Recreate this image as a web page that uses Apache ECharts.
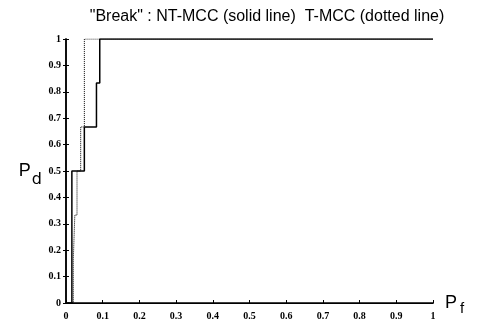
<!DOCTYPE html>
<html><head><meta charset="utf-8">
<script src="https://cdn.jsdelivr.net/npm/echarts@6/dist/echarts.min.js"></script>
<style>html,body{margin:0;padding:0;background:#fff}#c{width:487px;height:329px}</style>
</head><body><div id="c"></div>
<script>
var titleText = '"Break" : NT-MCC (solid line)  T-MCC (dotted line)';
var tickLabels = ['0','0.1','0.2','0.3','0.4','0.5','0.6','0.7','0.8','0.9','1'];
// NT-MCC (solid) step curve
var ntX = [0, 0.016, 0.016, 0.05, 0.05, 0.083, 0.083, 0.092, 0.092, 1];
var ntY = [0, 0, 0.5, 0.5, 0.667, 0.667, 0.833, 0.833, 1, 1];
// T-MCC (dotted) step curve
var tX = [0, 0.02, 0.02, 0.024, 0.024, 0.03, 0.03, 0.04, 0.04, 0.05, 0.05, 1];
var tY = [0, 0, 0.167, 0.167, 0.333, 0.333, 0.5, 0.5, 0.667, 0.667, 1, 1];

function pairs(xs, ys){ return xs.map(function(x,i){ return [x, ys[i]]; }); }
var lblFmt = function(v){ var i = Math.round(v*10); return tickLabels[i]; };
var labelStyle = {fontFamily:'Liberation Serif', fontWeight:'bold', fontSize:10, color:'#000', formatter: lblFmt};
var chart = echarts.init(document.getElementById('c'), null, {renderer:'canvas'});
chart.setOption({
  animation:false,
  backgroundColor:'#fff',
  title:{text:titleText, left:262, top:4, textAlign:'center',
    textStyle:{fontFamily:'Liberation Sans', fontWeight:'normal', fontSize:16, color:'#000'}},
  grid:{left:66, right:54, top:39, bottom:26},
  xAxis:[{type:'value', min:0, max:1, interval:0.1, position:'bottom',
    axisLine:{lineStyle:{color:'#000', width:1.5}},
    axisTick:{inside:true, length:3, lineStyle:{color:'#000'}},
    axisLabel:Object.assign({margin:8}, labelStyle),
    splitLine:{show:false},
    name:'{p|P}{s|f}', nameLocation:'end', nameGap:12,
    nameTextStyle:{rich:{p:{fontFamily:'Liberation Sans', fontSize:18, color:'#000'},
      s:{fontFamily:'Liberation Sans', fontSize:15, color:'#000', padding:[12,0,0,3]}}}},
   {type:'value', min:0, max:1, interval:0.1, position:'top',
    axisLine:{lineStyle:{color:'#000', width:1}}, axisTick:{show:false}, axisLabel:{show:false}, splitLine:{show:false}}],
  yAxis:[{type:'value', min:0, max:1, interval:0.1, position:'left',
    axisLine:{lineStyle:{color:'#000', width:1.5}},
    axisTick:{inside:true, length:3, lineStyle:{color:'#000'}},
    axisLabel:Object.assign({margin:5}, labelStyle),
    splitLine:{show:false},
    name:'{p|P}{s|d}', nameLocation:'middle', nameRotate:0, nameGap:24,
    nameTextStyle:{rich:{p:{fontFamily:'Liberation Sans', fontSize:18, color:'#000'},
      s:{fontFamily:'DejaVu Sans', fontSize:16, color:'#000', padding:[18,0,0,1]}}}},
   {type:'value', min:0, max:1, interval:0.1, position:'right',
    axisLine:{lineStyle:{color:'#000', width:1.5}},
    axisTick:{inside:true, length:3, lineStyle:{color:'#000'}}, axisLabel:{show:false}, splitLine:{show:false}}],
  series:[
    {type:'line', data:pairs(ntX, ntY), showSymbol:false, symbol:'none',
      lineStyle:{color:'#000', width:1.5, type:'solid'}},
    {type:'line', data:pairs(tX, tY), showSymbol:false, symbol:'none',
      lineStyle:{color:'#000', width:1, type:'dotted'}}
  ]
});
</script></body></html>
